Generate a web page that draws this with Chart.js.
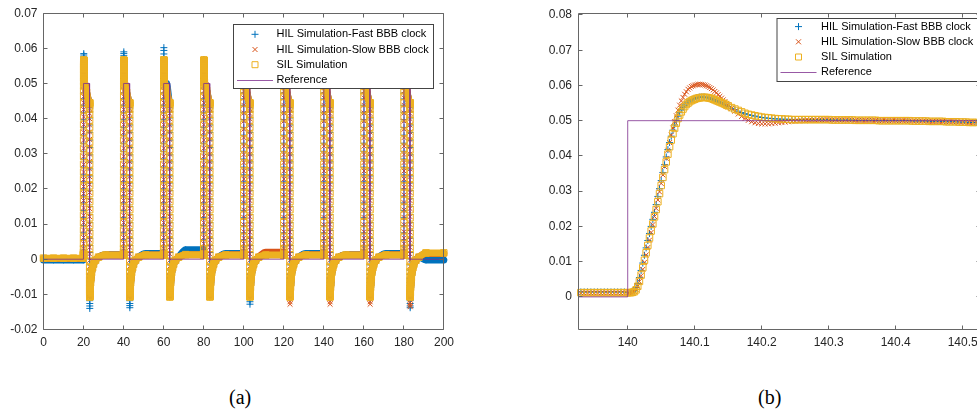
<!DOCTYPE html>
<html>
<head>
<meta charset="utf-8">
<script src="https://cdn.jsdelivr.net/npm/chart.js@4.4.0/dist/chart.umd.min.js"></script>
<style>
  html, body { margin: 0; padding: 0; background: #fff; overflow: hidden; width: 977px; height: 415px; }
  .wrap { position: absolute; top: 0; }
  .cap { position: absolute; top: 386px; font-family: 'Liberation Serif', 'Times New Roman', serif; font-size: 20px; color: #000; }
</style>
</head>
<body>
<div class="wrap" style="left:0;width:460px;height:360px"><canvas id="chartA" width="460" height="360"></canvas></div>
<div class="wrap" style="left:530px;width:470px;height:360px"><canvas id="chartB" width="470" height="360"></canvas></div>
<div class="cap" style="left:229px">(a)</div>
<div class="cap" style="left:758px">(b)</div>
<script>
const seriesNames = ['HIL Simulation-Fast BBB clock', 'HIL Simulation-Slow BBB clock', 'SIL Simulation', 'Reference'];

// ---- (a) whole run, 0..200 s ----
const xTicksA = [0, 20, 40, 60, 80, 100, 120, 140, 160, 180, 200];
const yTicksA = [-0.02, -0.01, 0, 0.01, 0.02, 0.03, 0.04, 0.05, 0.06, 0.07];
const yLabelsA = ['-0.02', '-0.01', '0', '0.01', '0.02', '0.03', '0.04', '0.05', '0.06', '0.07'];

const pulseStarts = [20, 40, 60, 80, 100, 120, 140, 160, 180];
const pulseLength = 3;
const refLevel = 0.05;

const startTimes = [0, 5, 10, 15, 19.9];
const startFast = -0.0002, startSlow = 0.0002, startSil = 0.0003;

// highest samples of each pulse (stacked markers at the top of the rising edge)
const peakFast = [[0.0570, 0.0576, 0.0581, 0.0585], [0.0572, 0.0579, 0.0585, 0.0590], [0.0575, 0.0584, 0.0594, 0.0602],
  [0.0563], [0.0565], [0.0565], [0.0567], [0.0565], [0.0565]];
const peakSlow = [[0.0555], [0.0560], [0.0563], [0.0560], [0.0600], [0.0603], [0.0603], [0.0600], [0.0600]];
const peakSil  = [[0.0555], [0.0562], [0.0566], [0.0563], [0.0565], [0.0566], [0.0566], [0.0566], [0.0566]];

const droopTime = 1.5;
const droopFast = [0.0475, 0.0475, 0.0500, 0.0480, 0.0475, 0.0475, 0.0475, 0.0475, 0.0475];
const droopSlow = [0.0475, 0.0475, 0.0480, 0.0480, 0.0475, 0.0475, 0.0475, 0.0475, 0.0475];
const droopSil  = [0.0475, 0.0475, 0.0480, 0.0480, 0.0475, 0.0475, 0.0475, 0.0475, 0.0475];

// falling edge at the end of each pulse, one sample every 2.5 ms
const fallFast = [
  0.0445, 0.0445, 0.0444, 0.0442, 0.0439, 0.0431, 0.0419, 0.0402, 0.0382, 0.0361,
  0.0339, 0.0318, 0.0297, 0.0277, 0.0257, 0.0237, 0.0217, 0.0195, 0.0172, 0.0150,
  0.0127, 0.0104, 0.0082, 0.0060, 0.0039, 0.0019, 0.0001, -0.0016, -0.0031, -0.0044,
  -0.0056, -0.0066, -0.0074, -0.0081, -0.0087, -0.0092, -0.0096, -0.0099, -0.0101, -0.0103,
  -0.0104, -0.0105, -0.0106, -0.0107, -0.0107];
const fallSlow = [
  0.0445, 0.0445, 0.0445, 0.0444, 0.0442, 0.0436, 0.0428, 0.0415, 0.0400, 0.0382,
  0.0362, 0.0341, 0.0320, 0.0299, 0.0278, 0.0257, 0.0235, 0.0213, 0.0190, 0.0167,
  0.0144, 0.0121, 0.0099, 0.0077, 0.0055, 0.0034, 0.0015, -0.0003, -0.0020, -0.0034,
  -0.0047, -0.0058, -0.0067, -0.0075, -0.0082, -0.0087, -0.0092, -0.0096, -0.0099, -0.0101,
  -0.0103, -0.0104, -0.0105, -0.0106, -0.0106];
const fallSil = [
  0.0445, 0.0445, 0.0445, 0.0444, 0.0442, 0.0436, 0.0427, 0.0412, 0.0395, 0.0375,
  0.0353, 0.0332, 0.0311, 0.0290, 0.0270, 0.0250, 0.0230, 0.0209, 0.0187, 0.0164,
  0.0141, 0.0118, 0.0096, 0.0074, 0.0052, 0.0031, 0.0012, -0.0006, -0.0022, -0.0036,
  -0.0049, -0.0059, -0.0068, -0.0076, -0.0083, -0.0088, -0.0093, -0.0097, -0.0100, -0.0102,
  -0.0104, -0.0105, -0.0106, -0.0107, -0.0107];

// lowest samples of each pulse (stacked markers at the bottom of the falling edge)
const troughFast = [[-0.0118, -0.0126, -0.0133, -0.0140], [-0.0118, -0.0126, -0.0132, -0.0138], [-0.0102], [-0.0102],
  [-0.0114, -0.0121, -0.0128], [-0.0112], [-0.0112], [-0.0115], [-0.0118, -0.0126, -0.0133, -0.0138]];
const troughSlow = [[-0.0105], [-0.0105], [-0.0102], [-0.0102], [-0.0105], [-0.0114, -0.0121, -0.0128],
  [-0.0114, -0.0121, -0.0128], [-0.0114, -0.0121, -0.0128], [-0.0116, -0.0124, -0.0130, -0.0135]];
const troughSil  = [[-0.0106], [-0.0106], [-0.0104], [-0.0104], [-0.0104], [-0.0104], [-0.0104], [-0.0104], [-0.0106]];

const recoveryTimes  = [3.2, 3.35, 3.5, 3.7, 4.0, 4.5, 5.0, 6.0, 7.5];
const recoveryValues = [-0.0095, -0.0080, -0.0067, -0.0053, -0.0038, -0.0024, -0.0014, -0.0003, 0.0006];

const settleTimes = [11, 19.9];
const settleFast = [0.0013, 0.0016, 0.0027, 0.0016, 0.0014, 0.0016, 0.0013, 0.0016, -0.0002];
const settleSlow = [0.0012, 0.0012, 0.0013, 0.0013, 0.0020, 0.0013, 0.0012, 0.0013, 0.0016];
const settleSil  = [0.0012, 0.0012, 0.0013, 0.0012, 0.0012, 0.0012, 0.0012, 0.0012, 0.0018];

// ---- (b) zoom on the step at 140 s ----
const xTicksB = [140, 140.1, 140.2, 140.3, 140.4, 140.5];
const xLabelsB = ['140', '140.1', '140.2', '140.3', '140.4', '140.5'];
const yTicksB = [0, 0.01, 0.02, 0.03, 0.04, 0.05, 0.06, 0.07, 0.08];
const yLabelsB = ['0', '0.01', '0.02', '0.03', '0.04', '0.05', '0.06', '0.07', '0.08'];

const firstTimeB = 139.93;
const stepTime = 140;
const fineStep = 0.0025;    // rise part, 0..0.15 s after the step
const coarseStep = 0.005;   // everything else
const afterStart = 0.155;
const tailStart = 0.305;

const preFast = [0.0014, 0.0014, 0.0014, 0.0014, 0.0014, 0.0014, 0.0014, 0.0014, 0.0014, 0.0014, 0.0014, 0.0014, 0.0014, 0.0014];
const preSlow = [0.0011, 0.0011, 0.0011, 0.0011, 0.0011, 0.0011, 0.0011, 0.0011, 0.0011, 0.0011, 0.0011, 0.0011, 0.0011, 0.0011];
const preSil  = [0.0012, 0.0012, 0.0012, 0.0012, 0.0012, 0.0012, 0.0012, 0.0012, 0.0012, 0.0012, 0.0012, 0.0012, 0.0012, 0.0012];

const riseFast = [
  0.0012, 0.0012, 0.0013, 0.0015, 0.0018, 0.0026, 0.0038, 0.0055, 0.0075, 0.0096,
  0.0118, 0.0139, 0.0160, 0.0180, 0.0200, 0.0220, 0.0240, 0.0262, 0.0285, 0.0307,
  0.0330, 0.0353, 0.0375, 0.0397, 0.0418, 0.0438, 0.0456, 0.0473, 0.0488, 0.0501,
  0.0513, 0.0523, 0.0531, 0.0538, 0.0544, 0.0549, 0.0553, 0.0556, 0.0559, 0.0561,
  0.0563, 0.0565, 0.0566, 0.0567, 0.0567, 0.0567, 0.0567, 0.0566, 0.0565, 0.0564,
  0.0562, 0.0560, 0.0558, 0.0556, 0.0554, 0.0552, 0.0550, 0.0547, 0.0545, 0.0543,
  0.0540];
const riseSlow = [
  0.0011, 0.0011, 0.0012, 0.0013, 0.0015, 0.0021, 0.0030, 0.0044, 0.0060, 0.0078,
  0.0098, 0.0119, 0.0140, 0.0161, 0.0183, 0.0205, 0.0228, 0.0251, 0.0275, 0.0298,
  0.0322, 0.0346, 0.0370, 0.0393, 0.0416, 0.0438, 0.0459, 0.0479, 0.0497, 0.0514,
  0.0530, 0.0544, 0.0556, 0.0566, 0.0575, 0.0582, 0.0589, 0.0593, 0.0597, 0.0599,
  0.0601, 0.0602, 0.0603, 0.0603, 0.0603, 0.0602, 0.0601, 0.0599, 0.0597, 0.0594,
  0.0591, 0.0587, 0.0583, 0.0579, 0.0574, 0.0569, 0.0564, 0.0559, 0.0554, 0.0549,
  0.0544];
const riseSil = [
  0.0012, 0.0012, 0.0012, 0.0013, 0.0015, 0.0020, 0.0030, 0.0044, 0.0062, 0.0083,
  0.0104, 0.0125, 0.0146, 0.0167, 0.0187, 0.0207, 0.0227, 0.0248, 0.0270, 0.0293,
  0.0316, 0.0339, 0.0361, 0.0383, 0.0405, 0.0426, 0.0445, 0.0463, 0.0479, 0.0493,
  0.0506, 0.0516, 0.0525, 0.0533, 0.0540, 0.0546, 0.0550, 0.0554, 0.0557, 0.0559,
  0.0561, 0.0563, 0.0564, 0.0565, 0.0566, 0.0566, 0.0566, 0.0566, 0.0565, 0.0564,
  0.0563, 0.0561, 0.0559, 0.0557, 0.0555, 0.0553, 0.0551, 0.0549, 0.0547, 0.0544,
  0.0542];

const afterFast = [
  0.0535, 0.0531, 0.0527, 0.0523, 0.0520, 0.0517, 0.0515, 0.0513, 0.0511, 0.0509,
  0.0508, 0.0507, 0.0506, 0.0505, 0.0505, 0.0504, 0.0504, 0.0504, 0.0503, 0.0503,
  0.0503, 0.0503, 0.0503, 0.0503, 0.0503, 0.0503, 0.0503, 0.0503, 0.0503, 0.0503];
const afterSlow = [
  0.0535, 0.0527, 0.0519, 0.0512, 0.0506, 0.0501, 0.0497, 0.0494, 0.0492, 0.0491,
  0.0491, 0.0491, 0.0492, 0.0493, 0.0494, 0.0495, 0.0496, 0.0497, 0.0498, 0.0499,
  0.0499, 0.0500, 0.0500, 0.0501, 0.0501, 0.0501, 0.0502, 0.0502, 0.0502, 0.0502];
const afterSil = [
  0.0537, 0.0533, 0.0529, 0.0525, 0.0521, 0.0518, 0.0516, 0.0514, 0.0512, 0.0510,
  0.0509, 0.0508, 0.0507, 0.0506, 0.0505, 0.0505, 0.0504, 0.0504, 0.0503, 0.0503,
  0.0503, 0.0503, 0.0503, 0.0503, 0.0503, 0.0503, 0.0503, 0.0503, 0.0503, 0.0503];

const tailB = [
  0.0502, 0.0502, 0.0502, 0.0502, 0.0502, 0.0502, 0.0502,
  0.0501, 0.0501, 0.0501, 0.0501, 0.0501, 0.0501, 0.0501,
  0.0500, 0.0500, 0.0500, 0.0500, 0.0500, 0.0500,
  0.0500, 0.0500, 0.0500, 0.0500, 0.0499, 0.0499, 0.0499, 0.0499, 0.0499,
  0.0498, 0.0498, 0.0498, 0.0498, 0.0498, 0.0497, 0.0497, 0.0497, 0.0497,
  0.0496, 0.0496, 0.0496, 0.0495, 0.0495, 0.0495];

const refTimesB = [139.9258, 140, 140, 140.5258];
const refValuesB = [0, 0, 0.05, 0.05];

const colors = { fast: '#0072BD', slow: '#D95319', sil: '#EDB120', ref: '#7E2F8E' };

Chart.defaults.font.family = '"Liberation Sans", Arial, sans-serif';
Chart.defaults.font.size = 12;
Chart.defaults.color = '#262626';

const peakIndex = 44;
const clusterGap = 0.0008;

function stepPoints(t0, rise, after) {
  const pts = rise.map((y, i) => ({ x: t0 + i * fineStep, y }));
  after.forEach((y, i) => pts.push({ x: t0 + afterStart + i * coarseStep, y }));
  return pts;
}

function buildRun(start, rises, afters, peak, droop, fall, trough, settle) {
  const pts = startTimes.map(t => ({ x: t, y: start }));
  pulseStarts.forEach((t0, k) => {
    stepPoints(t0, rises[k], afters[k]).forEach((p, i) => {
      pts.push(p);
      if (i === peakIndex) peak[k].forEach((y, j) => pts.push({ x: p.x + (j + 1) * clusterGap, y }));
    });
    pts.push({ x: t0 + droopTime, y: droop[k] });
    fall.forEach((y, i) => pts.push({ x: t0 + pulseLength + i * fineStep, y }));
    const fallEnd = t0 + pulseLength + (fall.length - 1) * fineStep;
    trough[k].forEach((y, j) => pts.push({ x: fallEnd + (j + 1) * clusterGap, y, edge: true }));
    recoveryTimes.forEach((t, i) => pts.push({ x: t0 + t, y: recoveryValues[i] }));
    settleTimes.forEach(t => pts.push({ x: t0 + t, y: settle[k] }));
  });
  return pts;
}

function refRunA() {
  const pts = [{ x: 0, y: 0 }];
  pulseStarts.forEach(t0 => {
    pts.push({ x: t0, y: 0 }, { x: t0, y: refLevel }, { x: t0 + pulseLength, y: refLevel }, { x: t0 + pulseLength, y: 0 });
  });
  pts.push({ x: 200, y: 0 });
  return pts;
}

function zoomSeries(pre, rise, after) {
  const pts = pre.map((y, i) => ({ x: firstTimeB + i * coarseStep, y }));
  stepPoints(stepTime, rise, after).forEach(p => pts.push(p));
  tailB.forEach((y, i) => pts.push({ x: stepTime + tailStart + i * coarseStep, y }));
  return pts;
}

const each = v => pulseStarts.map(() => v);
const earlySlow = (early, late) => pulseStarts.map((t, k) => (k < 4 ? early : late));

const runFast = buildRun(startFast, each(riseFast), each(afterFast), peakFast, droopFast, fallFast, troughFast, settleFast);
const runSlow = buildRun(startSlow, earlySlow(riseSil, riseSlow), earlySlow(afterSil, afterSlow), peakSlow, droopSlow, fallSlow, troughSlow, settleSlow);
const runSil = buildRun(startSil, each(riseSil), each(afterSil), peakSil, droopSil, fallSil, troughSil, settleSil);

const zoomFast = zoomSeries(preFast, riseFast, afterFast);
const zoomSlow = zoomSeries(preSlow, riseSlow, afterSlow);
const zoomSil = zoomSeries(preSil, riseSil, afterSil);
const refB = refTimesB.map((t, i) => ({ x: t, y: refValuesB[i] }));

// MATLAB style box with inward ticks on all four sides
const axesBox = {
  id: 'axesBox',
  afterDatasetsDraw(chart) {
    const { ctx, chartArea: a, scales } = chart;
    const snap = v => Math.round(v - 0.5) + 0.5;
    const L = snap(a.left), R = snap(a.right), T = snap(a.top), B = snap(a.bottom);
    ctx.save();
    ctx.strokeStyle = '#666';
    ctx.lineWidth = 1;
    ctx.beginPath();
    ctx.rect(L, T, R - L, B - T);
    scales.x.ticks.forEach(t => {
      const px = snap(scales.x.getPixelForValue(t.value));
      ctx.moveTo(px, B); ctx.lineTo(px, B - 4);
      ctx.moveTo(px, T); ctx.lineTo(px, T + 4);
    });
    scales.y.ticks.forEach(t => {
      const py = snap(scales.y.getPixelForValue(t.value));
      ctx.moveTo(L, py); ctx.lineTo(L + 4, py);
      ctx.moveTo(R, py); ctx.lineTo(R - 4, py);
    });
    ctx.stroke();
    ctx.restore();
  }
};

// legend drawn inside the axes, white box with a frame
const boxLegend = {
  id: 'boxLegend',
  afterDraw(chart, args, o) {
    const ctx = chart.ctx;
    ctx.save();
    ctx.fillStyle = '#fff';
    ctx.fillRect(o.x, o.y, o.w, o.h);
    ctx.strokeStyle = '#444';
    ctx.lineWidth = 1;
    ctx.strokeRect(o.x + 0.5, o.y + 0.5, o.w, o.h);
    ctx.font = '11px "Liberation Sans", Arial, sans-serif';
    ctx.textBaseline = 'middle';
    chart.data.datasets.forEach((ds, i) => {
      const cy = o.y + o.first + i * o.step;
      const cx = o.x + o.icon;
      ctx.strokeStyle = ds.pointBorderColor;
      ctx.lineWidth = 1;
      ctx.beginPath();
      if (ds.pointStyle === 'cross') {
        ctx.moveTo(cx - 3.5, cy); ctx.lineTo(cx + 3.5, cy);
        ctx.moveTo(cx, cy - 3.5); ctx.lineTo(cx, cy + 3.5);
      } else if (ds.pointStyle === 'crossRot') {
        ctx.moveTo(cx - 2.5, cy - 2.5); ctx.lineTo(cx + 2.5, cy + 2.5);
        ctx.moveTo(cx - 2.5, cy + 2.5); ctx.lineTo(cx + 2.5, cy - 2.5);
      } else if (ds.pointStyle === 'rect') {
        ctx.rect(cx - 3, cy - 3, 6, 6);
      } else {
        ctx.strokeStyle = ds.borderColor;
        ctx.moveTo(o.x + o.line1, Math.round(cy) + 0.5);
        ctx.lineTo(o.x + o.line2, Math.round(cy) + 0.5);
      }
      ctx.stroke();
      ctx.fillStyle = '#000';
      ctx.fillText(seriesNames[i], o.x + o.text, cy);
    });
    ctx.restore();
  }
};

// the dense, fast edges show as single markers, the slow parts as a solid band
function hideFastEdges(c) {
  const raw = c.chart.data.datasets[c.datasetIndex].data;
  const fast = c.p1.parsed.x - c.p0.parsed.x < 0.04 || raw[c.p0DataIndex].edge;
  return fast ? 'rgba(0,0,0,0)' : undefined;
}

function markerSet(label, data, style, color, radius, order, band) {
  return {
    label, data, order,
    pointStyle: style,
    pointRadius: radius,
    pointBorderWidth: 1,
    pointBorderColor: color,
    pointBackgroundColor: 'rgba(0,0,0,0)',
    borderColor: color,
    borderWidth: band ? 7 : 0,
    showLine: band,
    cubicInterpolationMode: 'monotone',
    borderCapStyle: 'round',
    borderJoinStyle: 'round',
    segment: band ? { borderColor: hideFastEdges } : undefined,
    clip: false
  };
}

function refSet(data) {
  return {
    label: seriesNames[3], data, order: 0,
    showLine: true, pointRadius: 0, borderWidth: 1,
    borderColor: 'rgba(126,47,142,0.8)', pointBorderColor: colors.ref,
    clip: false
  };
}

function axisOptions(min, max, ticks, labels, side) {
  return {
    type: 'linear', min, max,
    grid: { display: false, drawTicks: false },
    border: { display: false },
    ticks: {
      autoSkip: false, maxRotation: 0, padding: 6, color: '#262626',
      callback: (v, i) => labels[i]
    },
    afterBuildTicks: s => { s.ticks = ticks.map(v => ({ value: v })); },
    afterFit: s => { if (side.width) s.width = side.width; else s.height = side.height; }
  };
}

function makeChart(id, datasets, sc, pad, legend) {
  return new Chart(document.getElementById(id), {
    type: 'scatter',
    data: { datasets },
    plugins: [axesBox, boxLegend],
    options: {
      responsive: false,
      animation: false,
      devicePixelRatio: 1,
      events: [],
      layout: { padding: pad },
      plugins: { legend: { display: false }, tooltip: { enabled: false }, boxLegend: legend },
      scales: sc
    }
  });
}

makeChart('chartA', [
  markerSet(seriesNames[0], runFast, 'cross', colors.fast, 3.5, 3, true),
  markerSet(seriesNames[1], runSlow, 'crossRot', colors.slow, 3.5, 2, true),
  markerSet(seriesNames[2], runSil, 'rect', colors.sil, 4.6, 1, true),
  refSet(refRunA())
], {
  x: axisOptions(0, 200, xTicksA, xTicksA.map(String), { height: 30.5 }),
  y: axisOptions(-0.02, 0.07, yTicksA, yLabelsA, { width: 43.5 })
}, { left: 0, top: 12.5, right: 15, bottom: 0 },
{ x: 233, y: 24, w: 200, h: 64, first: 10.3, step: 15.2, icon: 22, line1: 4, line2: 40, text: 43.5 });

makeChart('chartB', [
  markerSet(seriesNames[0], zoomFast, 'cross', colors.fast, 3.5, 3, false),
  markerSet(seriesNames[1], zoomSlow, 'crossRot', colors.slow, 3.5, 2, false),
  markerSet(seriesNames[2], zoomSil, 'rect', colors.sil, 4.6, 1, false),
  refSet(refB)
], {
  x: axisOptions(139.9258, 140.5258, xTicksB, xLabelsB, { height: 30.7 }),
  y: axisOptions(-0.0092, 0.0805, yTicksB, yLabelsB, { width: 48 })
}, { left: 0, top: 12.7, right: 20, bottom: 0 },
{ x: 776.5 - 530, y: 18, w: 210, h: 63, first: 8.6, step: 15.2, icon: 22, line1: 4, line2: 40, text: 44.5 });
</script>
</body>
</html>
